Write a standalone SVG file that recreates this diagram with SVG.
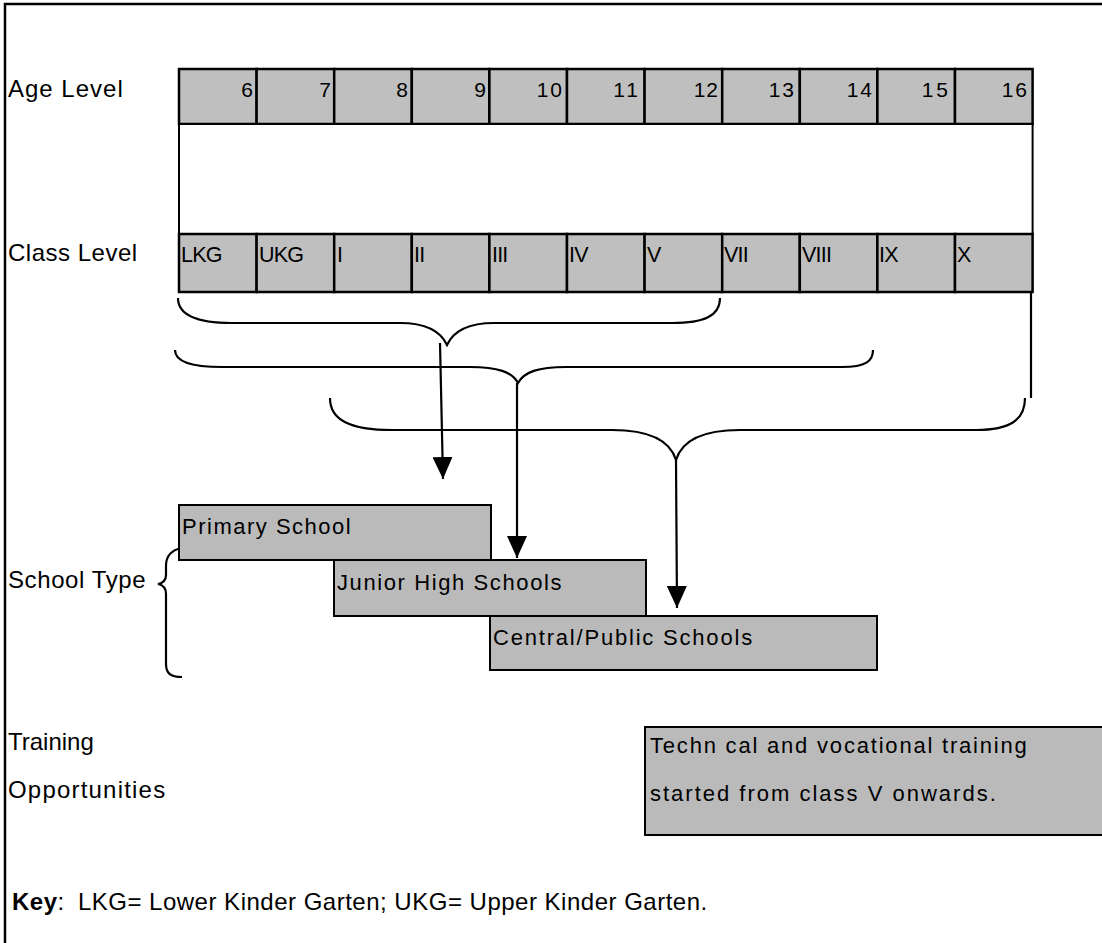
<svg xmlns="http://www.w3.org/2000/svg" width="1102" height="943" viewBox="0 0 1102 943">
<defs>
<style>
text{font-family:"Liberation Sans",Arial,sans-serif;font-size:24px;fill:#000}
.cell{fill:#bfbfbf;stroke:#000;stroke-width:2.5}
.box{fill:#bababa;stroke:#000;stroke-width:2}
.num{text-anchor:end;font-size:21px}
.cls{font-size:21.5px;letter-spacing:-0.8px}
.bt{font-size:22px}
.brace{fill:none;stroke:#000;stroke-width:2.2}
.conn{fill:none;stroke:#000;stroke-width:2.2}
</style>
<marker id="arr" markerWidth="22" markerHeight="20" refX="22" refY="10" orient="auto" markerUnits="userSpaceOnUse" viewBox="0 0 22 20">
<polygon points="0,0 22,10 0,20" fill="#000"/>
</marker>
</defs>
<rect width="1102" height="943" fill="#fff"/>
<g id="frame">
<path d="M5,943 L5,4 L1102,4" fill="none" stroke="#000" stroke-width="2.5"/>
</g>
<g id="labels">
<text x="8" y="97" letter-spacing="1">Age Level</text>
<text x="8" y="261" letter-spacing="0.5">Class Level</text>
<text x="8" y="588" letter-spacing="0.6">School Type</text>
<text x="8" y="750" font-size="21">Training</text>
<text x="8" y="798" font-size="21" letter-spacing="1.2">Opportunities</text>
<text x="12" y="910" font-size="24" letter-spacing="0.5"><tspan font-weight="bold">Key</tspan>: <tspan dx="6">LKG= Lower Kinder Garten; UKG= Upper Kinder Garten.</tspan></text>
</g>
<g id="age-row">
<rect class="cell" x="179" y="69" width="77.6" height="55"/>
<rect class="cell" x="256.6" y="69" width="77.6" height="55"/>
<rect class="cell" x="334.2" y="69" width="77.6" height="55"/>
<rect class="cell" x="411.8" y="69" width="77.6" height="55"/>
<rect class="cell" x="489.4" y="69" width="77.6" height="55"/>
<rect class="cell" x="567" y="69" width="77.6" height="55"/>
<rect class="cell" x="644.6" y="69" width="77.6" height="55"/>
<rect class="cell" x="722.2" y="69" width="77.6" height="55"/>
<rect class="cell" x="799.8" y="69" width="77.6" height="55"/>
<rect class="cell" x="877.4" y="69" width="77.6" height="55"/>
<rect class="cell" x="955" y="69" width="77.6" height="55"/>
<text class="num" x="253" y="97">6</text>
<text class="num" x="331" y="97">7</text>
<text class="num" x="408" y="97">8</text>
<text class="num" x="486" y="97">9</text>
<text class="num" x="564" y="97" letter-spacing="2">10</text>
<text class="num" x="641" y="97" letter-spacing="3">11</text>
<text class="num" x="719" y="97" letter-spacing="1">12</text>
<text class="num" x="796" y="97" letter-spacing="2">13</text>
<text class="num" x="874" y="97" letter-spacing="2">14</text>
<text class="num" x="951" y="97" letter-spacing="3">15</text>
<text class="num" x="1029" y="97" letter-spacing="2">16</text>
</g>
<g id="middle-band">
<rect x="179" y="124" width="853.6" height="110" fill="#fff" stroke="#000" stroke-width="2"/>
</g>
<g id="class-row">
<rect class="cell" x="179" y="234" width="77.6" height="58"/>
<rect class="cell" x="256.6" y="234" width="77.6" height="58"/>
<rect class="cell" x="334.2" y="234" width="77.6" height="58"/>
<rect class="cell" x="411.8" y="234" width="77.6" height="58"/>
<rect class="cell" x="489.4" y="234" width="77.6" height="58"/>
<rect class="cell" x="567" y="234" width="77.6" height="58"/>
<rect class="cell" x="644.6" y="234" width="77.6" height="58"/>
<rect class="cell" x="722.2" y="234" width="77.6" height="58"/>
<rect class="cell" x="799.8" y="234" width="77.6" height="58"/>
<rect class="cell" x="877.4" y="234" width="77.6" height="58"/>
<rect class="cell" x="955" y="234" width="77.6" height="58"/>
<text class="cls" x="181" y="262">LKG</text>
<text class="cls" x="259" y="262">UKG</text>
<text class="cls" x="337" y="262">I</text>
<text class="cls" x="414" y="262">II</text>
<text class="cls" x="492" y="262">III</text>
<text class="cls" x="569" y="262">IV</text>
<text class="cls" x="647" y="262">V</text>
<text class="cls" x="724" y="262">VII</text>
<text class="cls" x="802" y="262">VIII</text>
<text class="cls" x="879" y="262">IX</text>
<text class="cls" x="957" y="262">X</text>
</g>
<g id="connectors">
<path class="conn" d="M1031,292 L1031,398"/>
<path class="brace" d="M178,298 C178,316 198,323 232,323 L400,323 C426,323 441,332 447,345 C453,332 468,323 494,323 L672,323 C704,323 720,316 720,298"/>
<path class="brace" d="M175,350 C175,362 192,367 222,367 L470,367 C498,367 512,372 518,383 C524,372 538,367 566,367 L842,367 C866,367 873,361 873,350"/>
<path class="brace" d="M330,398 C330,420 350,430 392,430 L612,430 C650,430 670,440 676,460 C682,440 702,430 740,430 L976,430 C1010,430 1025,420 1025,398"/>
<path class="conn" d="M440,343 L443,479" marker-end="url(#arr)"/>
<path class="conn" d="M517,383 L517,558" marker-end="url(#arr)"/>
<path class="conn" d="M676,460 L677,608" marker-end="url(#arr)"/>
<path class="brace" d="M182,548 C171,550 166,556 166,566 L166,575 C166,580 163,583 158,584 C163,585 166,588 166,594 L166,664 C166,673 170,677 182,677"/>
</g>
<g id="primary-school">
<rect class="box" x="179" y="505" width="312" height="55"/>
<text class="bt" x="182" y="534" letter-spacing="1.5">Primary School</text>
</g>
<g id="junior-high">
<rect class="box" x="334" y="560" width="312" height="56"/>
<text class="bt" x="337" y="590" letter-spacing="1.6">Junior High Schools</text>
</g>
<g id="central-public">
<rect class="box" x="490" y="616" width="387" height="54"/>
<text class="bt" x="493" y="645" letter-spacing="1.8">Central/Public Schools</text>
</g>
<g id="training-box">
<rect class="box" x="645" y="727" width="460" height="108"/>
<text class="bt" x="650" y="753" letter-spacing="1.8">Techn cal and vocational training</text>
<text class="bt" x="650" y="801" letter-spacing="2">started from class V onwards.</text>
</g>
</svg>
